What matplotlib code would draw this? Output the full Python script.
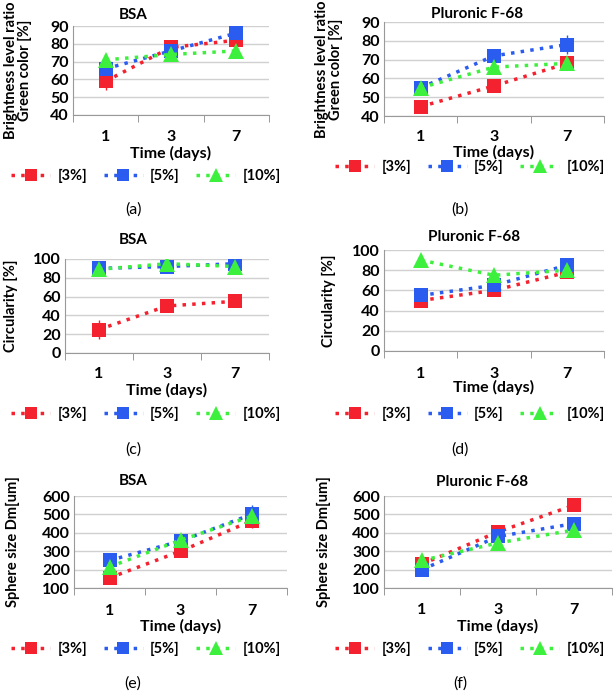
import matplotlib
matplotlib.use("Agg")
import matplotlib.pyplot as plt
import matplotlib.transforms as mtrans
from matplotlib.lines import Line2D

plt.rcParams['font.family'] = ['Lato', 'DejaVu Sans']
plt.rcParams['font.weight'] = 'bold'

days = ["1", "3", "7"]
series_names = ["[3%]", "[5%]", "[10%]"]
colors = ["#f4212e", "#2a5cf0", "#3ef03e"]
markers = ["s", "s", "^"]

# (a) BSA brightness
a_vals = [[59, 78, 82], [66, 76, 86], [71, 74, 76]]
a_err = [[5, 2, 2], [3, 3, 2], [3, 2, 3]]
# (b) Pluronic brightness
b_vals = [[45, 56, 68], [55, 72, 78], [55, 66, 68]]
b_err = [[1, 1, 1], [2, 2, 5], [3, 2, 1]]
# (c) BSA circularity
c_vals = [[25, 50, 55], [90, 92, 95], [89, 95, 92]]
c_err = [[10, 4, 2], [3, 2, 2], [3, 2, 2]]
# (d) Pluronic circularity
d_vals = [[50, 60, 78], [55, 65, 85], [90, 75, 80]]
d_err = [[2, 6, 2], [2, 2, 2], [3, 2, 2]]
# (e) BSA sphere size
e_vals = [[155, 300, 465], [250, 355, 500], [215, 360, 490]]
e_err = [[10, 10, 40], [10, 10, 50], [10, 25, 20]]
# (f) Pluronic sphere size
f_vals = [[230, 405, 550], [200, 380, 450], [250, 345, 415]]
f_err = [[10, 10, 10], [10, 10, 10], [15, 10, 25]]

W, H = 614, 696
fig = plt.figure(figsize=(W / 100, H / 100), dpi=100)

def rect(x0, y0, x1, y1):
    return [x0 / W, 1 - y1 / H, (x1 - x0) / W, (y1 - y0) / H]

panels = [
    dict(r=(73, 26, 269, 115), vals=a_vals, err=a_err, ylim=(40, 90), yt=range(40, 91, 10),
         title="BSA", ylab="Brightness level ratio\nGreen color [%]", tx=133, ty=15,
         tick_y=137, time_y=153, leg_y=176, lab_y=210, lab="(a)", ylx=18, lx=(12, 280), labx=133),
    dict(r=(384, 22, 604, 116), vals=b_vals, err=b_err, ylim=(40, 90), yt=range(40, 91, 10),
         title="Pluronic F-68", ylab="Brightness level ratio\nGreen color [%]", tx=477, ty=14,
         tick_y=137, time_y=152, leg_y=167, lab_y=210, lab="(b)", ylx=329, lx=(338, 602), labx=460),
    dict(r=(65, 259, 269, 353), vals=c_vals, err=c_err, ylim=(0, 100), yt=range(0, 101, 20),
         title="BSA", ylab="Circularity [%]", tx=133, ty=240,
         tick_y=374, time_y=390, leg_y=414, lab_y=450, lab="(c)", ylx=11, lx=(12, 280), labx=133),
    dict(r=(384, 250, 604, 351), vals=d_vals, err=d_err, ylim=(0, 100), yt=range(0, 101, 20),
         title="Pluronic F-68", ylab="Circularity [%]", tx=474, ty=237,
         tick_y=374, time_y=387, leg_y=414, lab_y=450, lab="(d)", ylx=329, lx=(338, 602), labx=460),
    dict(r=(74, 496, 287, 588), vals=e_vals, err=e_err, ylim=(100, 600), yt=range(100, 601, 100),
         title="BSA", ylab="Sphere size Dm[um]", tx=133, ty=481,
         tick_y=611, time_y=626, leg_y=649, lab_y=684, lab="(e)", ylx=13, lx=(12, 280), labx=133),
    dict(r=(384, 496, 612, 588), vals=f_vals, err=f_err, ylim=(100, 600), yt=range(100, 601, 100),
         title="Pluronic F-68", ylab="Sphere size Dm[um]", tx=482, ty=482,
         tick_y=610, time_y=626, leg_y=649, lab_y=684, lab="(f)", ylx=324, lx=(338, 602), labx=460),
]

dot = (0, (1, 1.8))
x = list(range(len(days)))
for p in panels:
    ax = fig.add_axes(rect(*p["r"]))
    for i in range(3):
        ax.errorbar(x, p["vals"][i], yerr=p["err"][i], color=colors[i], ecolor=colors[i],
                    elinewidth=1, capsize=3, capthick=1, linestyle=dot, linewidth=2.5,
                    marker=markers[i], markersize=9.5 if markers[i] == "s" else 11,
                    markeredgewidth=0, zorder=3 + i)
    ax.set_xlim(-0.5, 2.5)
    ax.set_ylim(*p["ylim"])
    ax.set_yticks(list(p["yt"]))
    ax.set_xticks(x)
    ax.set_xticklabels([])
    ax.set_xticks([-0.5, 0.5, 1.5, 2.5], minor=True)
    ax.tick_params(axis="x", which="major", length=0)
    ax.tick_params(axis="x", which="minor", length=5, color="#888888", direction="out")
    ax.tick_params(axis="y", length=0, labelsize=11.5, pad=3)
    for lbl in ax.get_yticklabels():
        lbl.set_fontweight("bold")
    ax.grid(axis="y", color="#d0d0d0", linewidth=1)
    ax.set_axisbelow(True)
    for s in ["top", "right"]:
        ax.spines[s].set_visible(False)
    ax.spines["left"].set_color("#999999")
    ax.spines["bottom"].set_color("#999999")
    x0, y0, x1, y1 = p["r"]
    tr = mtrans.blended_transform_factory(ax.transData, fig.transFigure)
    for xi, d in zip(x, days):
        ax.text(xi, 1 - p["tick_y"] / H, d, transform=tr,
                ha="center", va="center", fontsize=11.5, fontweight="bold")
    xc = (x0 + x1) / 2 / W
    fig.text(xc, 1 - p["time_y"] / H, "Time (days)", ha="center", va="center",
             fontsize=11.5, fontweight="bold")
    fig.text(p["tx"] / W, 1 - p["ty"] / H, p["title"], ha="center", va="center",
             fontsize=11, fontweight="bold")
    fig.text(p["ylx"] / W, 1 - ((y0 + y1) / 2) / H, p["ylab"], ha="center", va="center",
             rotation=90, fontsize=10.5, fontweight="bold", linespacing=1.05)
    fig.text(p["labx"] / W, 1 - p["lab_y"] / H, p["lab"],
             ha="center", va="center", fontsize=11.5, fontweight="normal")
    handles = [Line2D([], [], color=colors[i], linestyle=dot, linewidth=2.5,
                      marker=markers[i], markersize=8.5 if markers[i] == "s" else 10,
                      markeredgewidth=0)
               for i in range(3)]
    lx0, lx1 = p["lx"]
    ax.legend(handles, series_names, loc="center", ncol=3, frameon=False,
              bbox_to_anchor=((lx0 + lx1) / 2 / W, 1 - p["leg_y"] / H),
              bbox_transform=fig.transFigure,
              prop=dict(size=10.5, weight="bold"), handlelength=2.7, handletextpad=0.5,
              columnspacing=1.1, borderaxespad=0, borderpad=0)

fig.savefig("out.png", dpi=100)
